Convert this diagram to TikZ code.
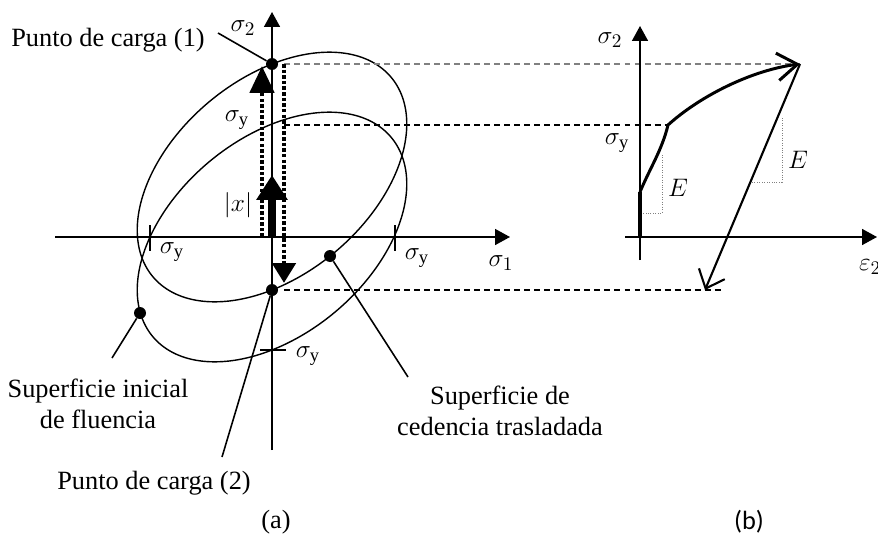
\documentclass[tikz,border=0pt]{standalone}
\usepackage{fontspec}
\setmainfont{Liberation Serif}
\newfontfamily\capfont{Carlito}
\usepackage{amsmath}
\usepackage{tikz}
\usetikzlibrary{arrows.meta,calc}
\tikzset{
  >=Stealth,
  every node/.style={font=\fontsize{15}{18}\selectfont},
  % --- nodes
  dot/.style   = {circle, fill=black, inner sep=0pt, minimum size=2.4mm},
  lbl/.style   = {align=center, inner sep=1pt},
  sym/.style   = {inner sep=1pt},
  % --- edges
  axis/.style  = {line width=0.9pt, -{Triangle[length=3mm,width=3.2mm]}},
  surf/.style  = {line width=0.8pt},
  lead/.style  = {line width=0.9pt},
  tk/.style    = {line width=0.9pt},
  proj/.style  = {line width=0.7pt, dash pattern=on 3.4pt off 2.3pt},
  thickd/.style= {line width=2.8pt, dash pattern=on 2pt off 1.2pt},
  slope/.style = {line width=0.4pt, gray, densely dotted},
}

\begin{document}
\begin{tikzpicture}[x=0.02cm, y=-0.02cm,
  load/.style={thickd, -{Triangle[length=5.4mm,width=4.8mm]}},
  unl/.style={thickd, -{Triangle[length=4mm,width=4.6mm]}},
  bstress/.style={line width=4pt, -{Triangle[length=5mm,width=6mm]}},
  curve/.style={line width=1.7pt, -{Straight Barb[length=4mm,width=5.5mm]}},
  unload/.style={line width=1.2pt, -{Straight Barb[length=3.2mm,width=5.6mm]}},
]
  \useasboundingbox (0,0) rectangle (878,541);

  % (a) yield surfaces
  \coordinate (o) at (272,237);
  \coordinate (c) at (272,175);
  \draw[surf] plot[domain=0:357, samples=120, smooth cycle, variable=\t]
    ({272+122*(0.9325*cos(\t)-0.5923*sin(\t))}, {237-113*(0.9325*cos(\t)+0.5923*sin(\t))});
  \draw[surf] plot[domain=0:357, samples=120, smooth cycle, variable=\t]
    ({272+122*(0.9325*cos(\t)-0.5923*sin(\t))}, {177-113*(0.9325*cos(\t)+0.5923*sin(\t))});

  % (a) axes and ticks
  \coordinate (xw) at (55,237);  \coordinate (xe) at (510,237);
  \coordinate (ys) at (272,450); \coordinate (yn) at (272,12);
  \draw[axis] (xw) -- (xe);
  \draw[axis] (ys) -- (yn);
  \draw[tk] (150,225) -- (150,251);
  \draw[tk] (395,225) -- (395,251);
  \draw[tk] (260,350) -- (286,350);

  % (b) points
  \coordinate (o2)  at (640,237);
  \coordinate (kn)  at (668,125);
  \coordinate (tip) at (800,64);
  \coordinate (u)   at (705,290);

  % projections
  \coordinate (da) at (284,64);
  \coordinate (sy) at (284,125);
  \coordinate (q2) at (284,290);
  \coordinate (q3) at (722,290);
  \draw[proj, gray] (da) -- (tip);
  \draw[proj] (sy) -- (kn);
  \draw[proj] (q2) -- (q3);

  % load path
  \coordinate (ua) at (262,237); \coordinate (ub) at (262,66);
  \coordinate (db) at (284,283);
  \draw[load] (ua) -- (ub);
  \draw[unl] (da) -- (db);
  \draw[bstress] (o) -- (c);

  \node[dot] (p1) at (272,64) {};
  \node[dot] (p2) at (272,290) {};
  \node[dot] (d1) at (330,256) {};
  \node[dot] (d2) at (140,313) {};

  \node[sym] (s2)  at (243,28)  {$\sigma_2$};
  \node[sym] (s1)  at (501,263) {$\sigma_1$};
  \node[sym] (syt) at (237,120) {$\sigma_{\mathrm{y}}$};
  \node[sym] (syl) at (172,252) {$\sigma_{\mathrm{y}}$};
  \node[sym] (syr) at (417,258) {$\sigma_{\mathrm{y}}$};
  \node[sym] (syb) at (308,356) {$\sigma_{\mathrm{y}}$};
  \node[sym] (xx)  at (238,205) {$|x|$};

  % labels and leaders
  \node[lbl] (t1) at (108,40)  {Punto de carga (1)};
  \node[lbl] (t2) at (154,483) {Punto de carga (2)};
  \node[lbl] (t3) at (98,404)  {Superficie inicial\\de fluencia};
  \node[lbl] (t4) at (500,411) {Superficie de\\cedencia trasladada};
  \coordinate (l1) at (218,33);
  \coordinate (l2) at (222,457);
  \coordinate (l3) at (112,358);
  \coordinate (l4) at (408,377);
  \draw[lead] (l1) -- (p1);
  \draw[lead] (l2) -- (p2);
  \draw[lead] (l3) -- (d2);
  \draw[lead] (l4) -- (d1);

  % (b) stress-strain
  \coordinate (bs) at (640,260); \coordinate (bn) at (640,26);
  \coordinate (bw) at (625,237); \coordinate (be) at (877,237);
  \draw[axis] (bs) -- (bn);
  \draw[axis] (bw) -- (be);
  \draw[line width=2.4pt] (o2) -- (640,192);
  \draw[curve] (640,192) .. controls (650,168) and (662,150) .. (kn)
    .. controls (700,96) and (752,70) .. (tip);
  \draw[unload] (tip) -- (u);
  \draw[slope] (662,155) |- (643,213);
  \draw[slope] (782,118) |- (751,182);

  \node[sym] (s2b) at (610,40)  {$\sigma_2$};
  \node[sym] (syb2) at (617,143) {$\sigma_{\mathrm{y}}$};
  \node[sym, anchor=west] (eps) at (857,267) {$\varepsilon_2$};
  \node[sym] (e1) at (678,188) {$E$};
  \node[sym] (e2) at (798,160) {$E$};

  \node (ca) at (276,522) {(a)};
  \node[font=\capfont\fontsize{15}{18}\selectfont] (cb) at (749,522) {(b)};
\end{tikzpicture}
\end{document}
